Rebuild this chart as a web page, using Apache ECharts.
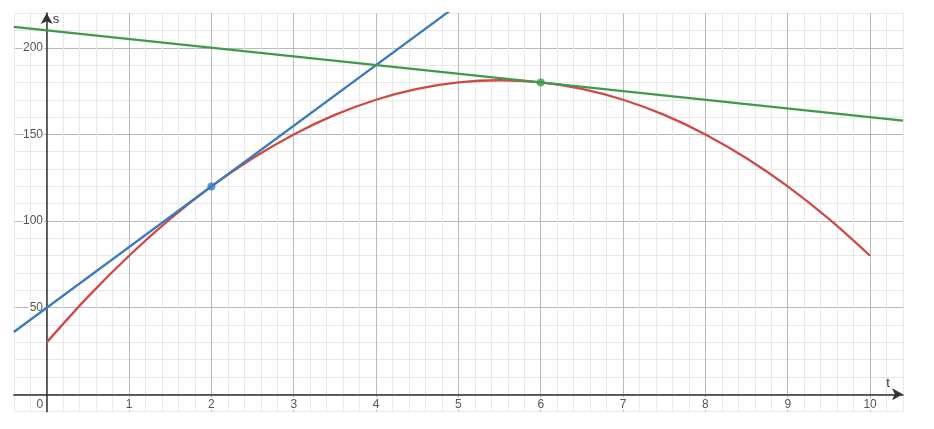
<!DOCTYPE html>
<html>
<head>
<meta charset="utf-8">
<script src="https://cdn.jsdelivr.net/npm/echarts@6/dist/echarts.min.js"></script>
<style>html,body{margin:0;padding:0;background:#fff}#c{width:934px;height:429px}</style>
</head>
<body>
<div id="c"></div>
<script>
// Red curve s(t)
var curveT = [0, 0.5, 1, 1.5, 2, 2.5, 3, 3.5, 4, 4.5, 5, 5.5, 6, 6.5, 7, 7.5, 8, 8.5, 9, 9.5, 10];
var curveS = [30, 56.25, 80, 101.25, 120, 136.25, 150, 161.25, 170, 176.25, 180, 181.25, 180, 176.25, 170, 161.25, 150, 136.25, 120, 101.25, 80];
// Blue tangent line (through t=2)
var blueT = [-0.4, 4.9];
var blueS = [36, 221.5];
// Green tangent line (through t=6)
var greenT = [-0.4, 10.4];
var greenS = [212, 158];
// Marked points
var bluePoint = [2, 120];
var greenPoint = [6, 180];
// Axis ranges / ticks
var xMin = -0.4, xMax = 10.4, xStep = 0.2;
var yMin = -10, yMax = 220, yStep = 10;
var xLabelStep = 1;
var yLabelStep = 50;

function pairs(a, b) { return a.map(function (v, i) { return [v, b[i]]; }); }
function isMult(v, m) { return Math.abs(v / m - Math.round(v / m)) < 1e-6; }

var MAJ = '#bababa', MIN = '#e8e8e8';
var font = 'Liberation Sans, Arial, sans-serif';

var chart = echarts.init(document.getElementById('c'));
chart.setOption({
  backgroundColor: '#fff',
  animation: false,
  grid: { left: 13.8, right: 31, top: 13.1, bottom: 17.3, containLabel: false, outerBoundsMode: 'none' },
  xAxis: {
    type: 'value', min: xMin, max: xMax, interval: xStep,
    axisLine: { onZero: true, symbol: ['none', 'arrow'], symbolSize: [9, 11], lineStyle: { color: '#333', width: 1.5 } },
    axisTick: { show: false },
    splitLine: { show: true, lineStyle: { color: [MIN, MIN, MAJ, MIN, MIN], width: 1 } },
    axisLabel: {
      margin: -13.5, color: '#555', fontSize: 12, fontFamily: font,
      textBorderColor: '#fff', textBorderWidth: 3,
      showMinLabel: false, showMaxLabel: false,
      formatter: function (v) {
        if (!isMult(v, xLabelStep)) return '';
        var r = Math.round(v);
        if (r === 0) return '{z|0}';
        return String(r);
      },
      rich: { z: { padding: [0, 14, 0, 0], color: '#555', fontSize: 12, fontFamily: font, textBorderColor: '#fff', textBorderWidth: 3 } }
    },
    name: 't', nameLocation: 'end', nameGap: -15,
    nameTextStyle: { color: '#333', fontSize: 13, fontFamily: font, align: 'center', verticalAlign: 'bottom', padding: [0, 0, 4, 0] }
  },
  yAxis: {
    type: 'value', min: yMin, max: yMax, interval: yStep,
    axisLine: { onZero: true, symbol: ['none', 'arrow'], symbolSize: [9, 11], lineStyle: { color: '#333', width: 1.5 } },
    axisTick: { show: false },
    splitLine: { show: true, lineStyle: { color: [MIN, MAJ, MIN, MIN, MIN], width: 1 } },
    axisLabel: {
      margin: -29.2, color: '#555', fontSize: 12, fontFamily: font,
      textBorderColor: '#fff', textBorderWidth: 3,
      showMinLabel: false, showMaxLabel: false,
      formatter: function (v) {
        if (!isMult(v, yLabelStep)) return '';
        var r = Math.round(v);
        if (r === 0) return '';
        return String(r);
      }
    },
    name: 's', nameLocation: 'end', nameGap: 0,
    nameTextStyle: { color: '#333', fontSize: 13, fontFamily: font, align: 'left', verticalAlign: 'top', padding: [0, 0, 0, 6] }
  },
  series: [
    { type: 'line', data: pairs(blueT, blueS), showSymbol: false, clip: true, lineStyle: { color: '#3a7bc0', width: 2.3 }, z: 3 },
    { type: 'line', data: pairs(greenT, greenS), showSymbol: false, clip: true, lineStyle: { color: '#3f9a4d', width: 2.3 }, z: 3 },
    { type: 'line', data: pairs(curveT, curveS), showSymbol: false, smooth: 0.35, clip: true, lineStyle: { color: '#d04a45', width: 2.3 }, z: 2 },
    { type: 'scatter', data: [bluePoint], symbolSize: 8, itemStyle: { color: '#3a7bc0' }, z: 5 },
    { type: 'scatter', data: [greenPoint], symbolSize: 8, itemStyle: { color: '#3f9a4d' }, z: 5 }
  ]
});
</script>
</body>
</html>
